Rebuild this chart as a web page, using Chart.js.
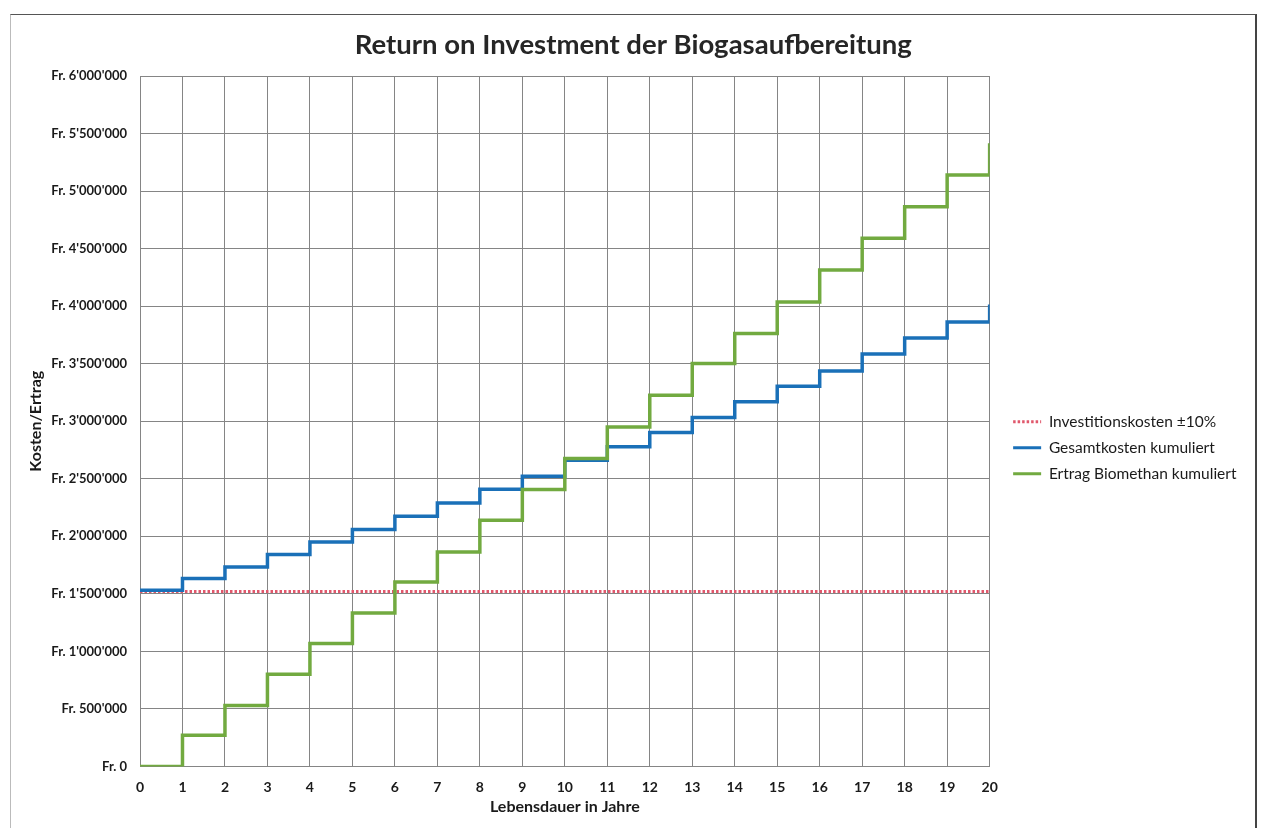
<!DOCTYPE html>
<html>
<head>
<meta charset="utf-8">
<script src="https://cdn.jsdelivr.net/npm/chart.js@4.4.1/dist/chart.umd.min.js"></script>
<style>
  html, body { margin: 0; padding: 0; background: #fff; }
  #wrap { position: relative; width: 1262px; height: 828px; overflow: hidden; }
  #frame {
    position: absolute; left: 10px; top: 14px; width: 1244px; height: 840px;
    border-top: 1.5px solid #555; border-left: 1px solid #bbb; border-right: 2px solid #444;
  }
  #roiChart { position: absolute; left: 0; top: 0; }
</style>
</head>
<body>
<div id="wrap">
  <div id="frame"></div>
  <canvas id="roiChart" width="1262" height="828"></canvas>
</div>
<script>
// Jahre 0..20
const years = [0, 1, 2, 3, 4, 5, 6, 7, 8, 9, 10, 11, 12, 13, 14, 15, 16, 17, 18, 19, 20];

// Investitionskosten (horizontal)
const investment = 1520000;

// Gesamtkosten kumuliert
const totalCosts = [
  1530000, 1632000, 1733000, 1841000, 1950000, 2058000, 2174000, 2290000, 2409000, 2522000,
  2661000, 2777000, 2901000, 3032000, 3168000, 3304000, 3437000, 3583000, 3722000, 3863000,
  4014000
];

// Ertrag Biomethan kumuliert
const revenue = [
  0, 270000, 530000, 800000, 1067000, 1333000, 1603000, 1864000, 2139000, 2406000,
  2676000, 2950000, 3226000, 3501000, 3763000, 4037000, 4313000, 4589000, 4863000, 5139000,
  5415000
];

const yTicks = [0, 500000, 1000000, 1500000, 2000000, 2500000, 3000000, 3500000, 4000000,
  4500000, 5000000, 5500000, 6000000];

function formatFr(v) {
  if (v === 0) return "Fr. 0";
  return "Fr. " + String(v).replace(/\B(?=(\d{3})+(?!\d))/g, "'");
}

const FONT = "Lato, 'Open Sans', sans-serif";

const ctx = document.getElementById("roiChart").getContext("2d");

new Chart(ctx, {
  type: "line",
  data: {
    datasets: [
      {
        label: "Investitionskosten ±10%",
        data: years.map(y => ({ x: y, y: investment })),
        borderColor: "#e0586c",
        borderWidth: 3,
        borderDash: [2.5, 2],
        pointRadius: 0,
        order: 3
      },
      {
        label: "Gesamtkosten kumuliert",
        data: years.map((y, i) => ({ x: y, y: totalCosts[i] })),
        borderColor: "#1a70b8",
        borderWidth: 3.5,
        stepped: true,
        pointRadius: 0,
        order: 2
      },
      {
        label: "Ertrag Biomethan kumuliert",
        data: years.map((y, i) => ({ x: y, y: revenue[i] })),
        borderColor: "#72aa40",
        borderWidth: 3.5,
        stepped: true,
        pointRadius: 0,
        order: 1
      }
    ]
  },
  options: {
    responsive: false,
    animation: false,
    layout: { padding: { left: 20, right: 15.5, top: 0, bottom: 11.4 } },
    plugins: {
      title: {
        display: true,
        text: "Return on Investment der Biogasaufbereitung",
        color: "#262626",
        font: { family: FONT, size: 27.5, weight: "bold" },
        padding: { top: 28.5, bottom: 14.5 }
      },
      legend: {
        position: "right",
        fullSize: false,
        align: "center",
        maxWidth: 320,
        title: { display: true, text: " ", font: { size: 10 }, padding: { top: 19, bottom: 22 } },
        labels: {
          usePointStyle: true,
          pointStyle: "line",
          pointStyleWidth: 28,
          color: "#1a1a1a",
          font: { family: FONT, size: 15.5 },
          padding: 10.5,
          sort: (a, b) => a.datasetIndex - b.datasetIndex,
          generateLabels: chart => chart.data.datasets.map((ds, i) => ({
            text: ds.label,
            datasetIndex: i,
            strokeStyle: ds.borderColor,
            fillStyle: ds.borderColor,
            lineWidth: 3,
            lineDash: ds.borderDash || [],
            pointStyle: "line",
            fontColor: "#1a1a1a",
            hidden: false
          }))
        }
      },
      tooltip: { enabled: false }
    },
    scales: {
      x: {
        type: "linear",
        min: 0,
        max: 20,
        ticks: {
          stepSize: 1,
          color: "#1a1a1a",
          font: { family: FONT, size: 14, weight: "bold" },
          padding: 13
        },
        grid: { color: "#858585", lineWidth: 1, drawTicks: false },
        border: { color: "#858585" },
        title: {
          display: true,
          text: "Lebensdauer in Jahre",
          color: "#1a1a1a",
          font: { family: FONT, size: 16, weight: "bold" },
          padding: { top: -11.8, bottom: 0 }
        }
      },
      y: {
        min: 0,
        max: 6000000,
        afterBuildTicks: scale => { scale.ticks = yTicks.map(v => ({ value: v })); },
        afterFit: scale => { scale.width = 120; },
        ticks: {
          color: "#1a1a1a",
          font: { family: FONT, size: 13, weight: "bold" },
          padding: 13,
          callback: v => formatFr(v)
        },
        grid: { color: "#858585", lineWidth: 1, drawTicks: false },
        border: { color: "#858585" },
        title: {
          display: true,
          text: "Kosten/Ertrag",
          color: "#1a1a1a",
          font: { family: FONT, size: 16, weight: "bold" },
          padding: { top: 6.4, bottom: 0 }
        }
      },
      y2: {
        position: "right",
        display: true,
        afterFit: scale => { scale.width = 13; },
        ticks: { display: false },
        grid: { display: false, drawTicks: false },
        border: { display: false }
      }
    }
  }
});
</script>
</body>
</html>
